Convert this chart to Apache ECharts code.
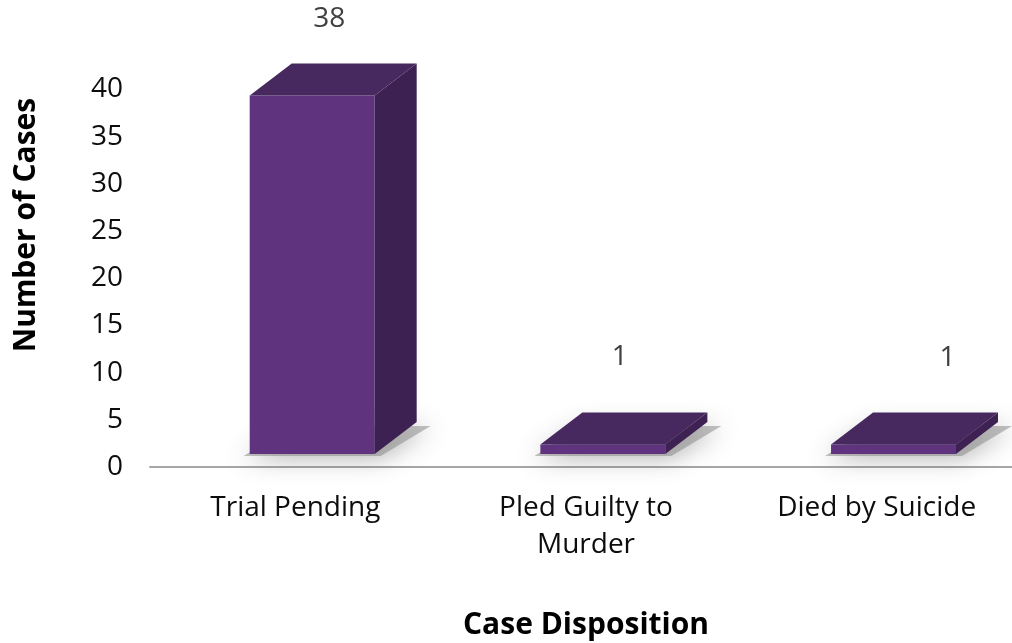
<!DOCTYPE html>
<html>
<head>
<meta charset="utf-8">
<script src="https://cdn.jsdelivr.net/npm/echarts@6/dist/echarts.min.js"></script>
<style>
  html, body { margin: 0; padding: 0; background: #fff; }
  #chart { width: 1012px; height: 643px; }
</style>
</head>
<body>
<div id="chart"></div>
<script>
  // data
  var categories = ['Trial Pending', 'Pled Guilty to\nMurder', 'Died by Suicide'];
  var cases = [38, 1, 1];
  var yTicks = { min: 0, max: 40, step: 5 };

  // little shifts for the value labels (the original ones were dragged around)
  var labelShiftX = [0, 0, 37];
  var labelShiftY = [0, -12, -11];

  var FONT = '"Open Sans", Lato, sans-serif';
  var depthX = 42, depthY = -32, lift = 13;

  function renderBox(params, api) {
    var i = api.value(0);
    var base = api.coord([i, 0]);
    var top = api.coord([i, api.value(1)]);
    var band = api.size([1, 0])[0];
    var w = band * 0.43;
    var cx = base[0] + band * 0.058;
    var x0 = cx - w / 2, x1 = cx + w / 2;
    var y0 = base[1] - lift, y1 = top[1] - lift;

    return {
      type: 'group',
      children: [
        { // floor shadow
          type: 'polygon',
          shape: { points: [[x0 - 6, y0 + 2], [x1 + 6, y0 + 2], [x1 + depthX + 14, y0 + depthY + 4], [x0 + depthX, y0 + depthY + 4]] },
          style: { fill: 'rgba(140,140,140,0.55)', shadowBlur: 24, shadowColor: 'rgba(90,90,90,0.85)', shadowOffsetY: 2 },
          silent: true
        },
        {
          type: 'rect',
          shape: { x: x0, y: y1, width: w, height: y0 - y1 },
          style: { fill: '#5f337e' }
        },
        {
          type: 'polygon',
          shape: { points: [[x0, y1], [x1, y1], [x1 + depthX, y1 + depthY], [x0 + depthX, y1 + depthY]] },
          style: { fill: '#47295f' }
        },
        {
          type: 'polygon',
          shape: { points: [[x1, y1], [x1 + depthX, y1 + depthY], [x1 + depthX, y0 + depthY], [x1, y0]] },
          style: { fill: '#3d2153' }
        },
        {
          type: 'text',
          x: cx + 17 + labelShiftX[i],
          y: y1 - 76 + labelShiftY[i],
          style: {
            text: String(api.value(1)),
            fill: '#404040',
            font: '28px ' + FONT,
            align: 'center',
            verticalAlign: 'middle'
          }
        }
      ]
    };
  }

  var seriesData = [];
  for (var i = 0; i < cases.length; i++) {
    seriesData.push([i, cases[i]]);
  }

  var myChart = echarts.init(document.getElementById('chart'));
  var option = {
    animation: false,
    grid: { left: 150, right: -10, top: 89.5, bottom: 176, outerBoundsMode: 'none', containLabel: false },
    xAxis: {
      type: 'category',
      data: categories,
      axisLine: { show: true, lineStyle: { color: '#a6a6a6', width: 2 } },
      axisTick: { show: false },
      axisLabel: {
        margin: 23,
        color: '#0d0d0d',
        fontFamily: FONT,
        fontSize: 28,
        lineHeight: 37,
        interval: 0
      },
      name: 'Case Disposition',
      nameLocation: 'middle',
      nameGap: 143,
      nameTextStyle: { color: '#000', fontFamily: FONT, fontSize: 30, fontWeight: 'bold' }
    },
    yAxis: {
      type: 'value',
      min: yTicks.min,
      max: yTicks.max,
      interval: yTicks.step,
      axisLine: { show: false },
      axisTick: { show: false },
      splitLine: { show: false },
      axisLabel: {
        margin: 27,
        color: '#0d0d0d',
        fontFamily: FONT,
        fontSize: 28
      }
    },
    graphic: [{
      type: 'text',
      x: 26,
      y: 225,
      rotation: Math.PI / 2,
      style: {
        text: 'Number of Cases',
        fill: '#000',
        font: 'bold 30px ' + FONT,
        align: 'center',
        verticalAlign: 'middle'
      }
    }],
    series: [{
      type: 'custom',
      renderItem: renderBox,
      data: seriesData,
      clip: false
    }]
  };
  myChart.setOption(option);
</script>
</body>
</html>
